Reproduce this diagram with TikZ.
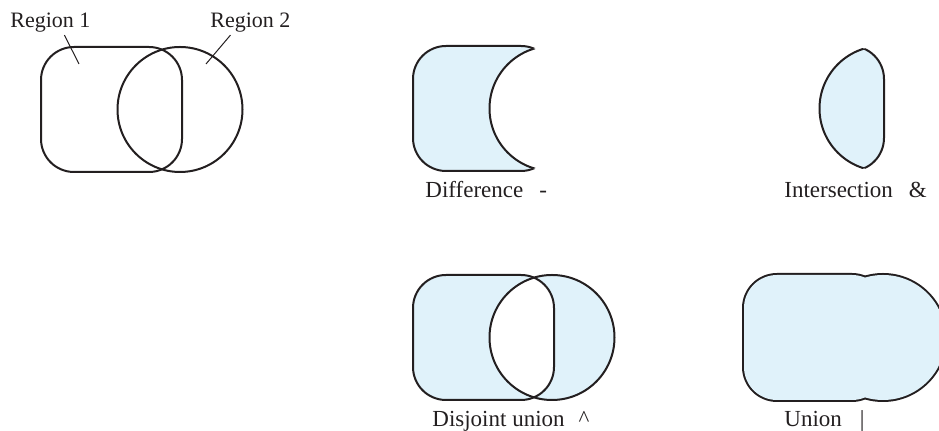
\documentclass[tikz,border=0pt]{standalone}
\usepackage{fontspec}
\setmainfont{Liberation Serif}
\usepackage{tikz}
\definecolor{setfill}{RGB}{224,242,250}
\definecolor{setline}{RGB}{35,31,32}
% the two regions, drawn at the origin of each panel
\newcommand\slabpath{[rounded corners=16.5pt] (0,0) rectangle (141,125)}
\newcommand\discpath{(139,62.5) circle [radius=62.5]}

\begin{document}
\begin{tikzpicture}[x=0.5pt, y=-0.5pt,
 outline/.style={draw=setline, line width=1pt},
 shade/.style={fill=setfill},
 setlabel/.style={font=\fontsize{11.5}{13}\selectfont, text=setline,
          anchor=base west, inner sep=1pt},
 pointer/.style={draw=setline, line width=0.5pt}
]
\useasboundingbox (0,0) rectangle (939,431);
% Region 1 and Region 2
\begin{scope}[shift={(41,47)}]
 \draw[outline] \slabpath;
 \draw[outline] \discpath;
\end{scope}
\node[setlabel, font=\fontsize{11}{13}\selectfont] (lblone) at (8,28) {Region 1};
\node[setlabel, font=\fontsize{11}{13}\selectfont] (lbltwo) at (208,28) {Region 2};
\coordinate (onein) at (79,64);
\coordinate (twoin) at (206,64);
\draw[pointer] ([xshift=7pt]lblone.south) -- (onein);
\draw[pointer] ([xshift=-10pt]lbltwo.south) -- (twoin);
% Difference
\begin{scope}[shift={(413,46)}]
 \fill[shade] \slabpath;
 \draw[outline] \slabpath;
 \fill[white] \discpath;
 \begin{scope}
  \clip \slabpath;
  \draw[outline] \discpath;
 \end{scope}
\end{scope}
\node[setlabel] (difflbl) at (423,198) {Difference\hspace{8pt}-};
% Intersection
\begin{scope}[shift={(743,46)}]
 \begin{scope}
  \clip \slabpath;
  \fill[shade] \discpath;
  \draw[outline] \discpath;
 \end{scope}
 \begin{scope}
  \clip \discpath;
  \draw[outline] \slabpath;
 \end{scope}
\end{scope}
\node[setlabel] (intlbl) at (782,198) {Intersection\hspace{8pt}\&};
% Disjoint union
\begin{scope}[shift={(413,275)}]
 \fill[shade] \slabpath;
 \fill[shade] \discpath;
 \begin{scope}
  \clip \slabpath;
  \fill[white] \discpath;
 \end{scope}
 \draw[outline] \slabpath;
 \draw[outline] \discpath;
\end{scope}
\node[setlabel] (xorlbl) at (430,427) {Disjoint union\hspace{7pt}\textasciicircum};
% Union
\begin{scope}[shift={(744,275)}]
 \draw[outline, line width=2pt] \slabpath;
 \draw[outline, line width=2pt] \discpath;
 \fill[shade] \slabpath;
 \fill[shade] \discpath;
\end{scope}
\node[setlabel] (unionlbl) at (782,427) {Union\hspace{9pt}|};
\end{tikzpicture}
\end{document}
